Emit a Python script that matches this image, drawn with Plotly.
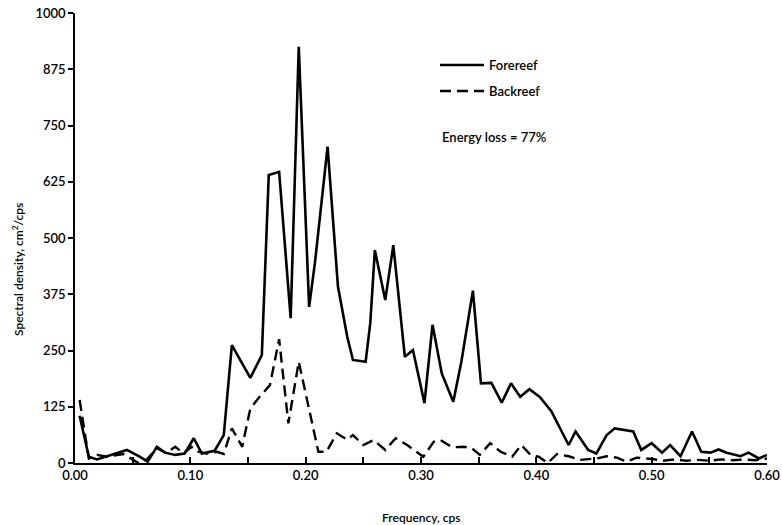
import plotly.graph_objects as go

fore_freq = [0.004, 0.012, 0.019, 0.027, 0.035, 0.045, 0.056, 0.063, 0.071, 0.078,
             0.087, 0.095, 0.103, 0.110, 0.121, 0.129, 0.136, 0.152, 0.162, 0.168,
             0.177, 0.187, 0.194, 0.203, 0.208, 0.219, 0.228, 0.236, 0.241, 0.252,
             0.256, 0.260, 0.269, 0.276, 0.286, 0.293, 0.303, 0.310, 0.318, 0.328,
             0.335, 0.345, 0.352, 0.361, 0.370, 0.378, 0.386, 0.394, 0.403, 0.413,
             0.421, 0.428, 0.434, 0.445, 0.452, 0.461, 0.468, 0.484, 0.491, 0.500,
             0.509, 0.516, 0.525, 0.535, 0.543, 0.551, 0.558, 0.565, 0.577, 0.584,
             0.593, 0.600]
fore_vals = [105, 14, 8, 14, 20, 29, 14, 3, 36, 23,
             18, 21, 55, 21, 27, 62, 262, 189, 240, 640,
             647, 322, 925, 347, 444, 703, 392, 281, 229, 225,
             310, 473, 362, 484, 236, 251, 133, 307, 199, 136,
             225, 383, 177, 178, 134, 177, 147, 164, 147, 115,
             75, 40, 70, 29, 21, 62, 77, 70, 29, 44,
             23, 40, 15, 70, 25, 23, 30, 23, 15, 23,
             10, 18]

back_freq = [0.004, 0.012, 0.019, 0.028, 0.042, 0.049, 0.055, 0.062, 0.071, 0.079,
             0.087, 0.094, 0.101, 0.107, 0.114, 0.123, 0.129, 0.136, 0.145, 0.152,
             0.160, 0.169, 0.177, 0.185, 0.194, 0.211, 0.218, 0.227, 0.236, 0.241,
             0.250, 0.259, 0.269, 0.278, 0.288, 0.302, 0.311, 0.317, 0.327, 0.337,
             0.344, 0.351, 0.360, 0.369, 0.379, 0.387, 0.395, 0.402, 0.410, 0.418,
             0.428, 0.438, 0.452, 0.461, 0.470, 0.478, 0.487, 0.500, 0.510, 0.520,
             0.530, 0.540, 0.550, 0.560, 0.570, 0.580, 0.590, 0.600]
back_vals = [140, 10, 18, 14, 20, 10, 0, 7, 33, 22,
             36, 21, 36, 25, 21, 25, 20, 77, 36, 121,
             147, 173, 275, 88, 225, 25, 25, 66, 52, 62,
             40, 51, 29, 55, 40, 14, 47, 51, 35, 36,
             33, 18, 44, 25, 14, 40, 18, 14, 0, 20,
             15, 7, 10, 15, 12, 3, 12, 9, 5, 8,
             5, 7, 5, 8, 6, 8, 6, 10]

x_ticks = [0.00, 0.05, 0.10, 0.15, 0.20, 0.25, 0.30, 0.35, 0.40, 0.45, 0.50, 0.55, 0.60]
x_labels = ["0.00", "", "0.10", "", "0.20", "", "0.30", "", "0.40", "", "0.50", "", "0.60"]
y_ticks = [0, 125, 250, 375, 500, 625, 750, 875, 1000]

FONT = "Lato"
L, R, T, B = 75, 15, 13, 62
W, H = 782, 525
PW, PH = W - L - R, H - T - B


def px_x(p):
    return (p - L) / PW


def px_y(p):
    return (H - B - p) / PH


fig = go.Figure()
fig.add_trace(go.Scatter(x=fore_freq, y=fore_vals, mode="lines", name="Forereef",
                         line=dict(color="black", width=2.6), legend="legend"))
fig.add_trace(go.Scatter(x=back_freq, y=back_vals, mode="lines", name="Backreef",
                         line=dict(color="black", width=2.4, dash="11px,6px"),
                         legend="legend2"))

tfont = dict(family=FONT, size=13, color="black", weight=600)
leg_common = dict(bgcolor="rgba(0,0,0,0)", font=tfont,
                  xanchor="left", yanchor="middle", itemwidth=44)
fig.update_layout(
    width=W, height=H,
    margin=dict(l=L, r=R, t=T, b=B, autoexpand=False),
    paper_bgcolor="white", plot_bgcolor="white",
    font=dict(family=FONT, size=13, color="black"),
    showlegend=True,
    legend=dict(x=px_x(435), y=px_y(65), **leg_common),
    legend2=dict(x=px_x(435), y=px_y(91), **leg_common),
    xaxis=dict(range=[0, 0.6], tickvals=x_ticks, ticktext=x_labels,
               ticks="inside", ticklen=6, tickcolor="black", tickwidth=1.5,
               showline=True, linecolor="black", linewidth=1.5,
               showgrid=False, zeroline=False, automargin=False,
               tickfont=tfont),
    yaxis=dict(range=[0, 1000], tickvals=y_ticks,
               ticks="outside", ticklen=5, tickcolor="black", tickwidth=1.5,
               showline=True, linecolor="black", linewidth=1.5,
               showgrid=False, zeroline=False, automargin=False,
               tickfont=tfont),
    annotations=[
        dict(text="Energy loss = 77%", xref="paper", yref="paper",
             x=px_x(440), y=px_y(137), xanchor="left", yanchor="middle",
             showarrow=False, font=tfont),
        dict(text="Frequency, cps", xref="paper", yref="paper",
             x=px_x(421), y=px_y(517), xanchor="center", yanchor="middle",
             showarrow=False, font=dict(family=FONT, size=12, color="black", weight=600)),
        dict(text="Spectral density, cm<sup>2</sup>/cps", xref="paper", yref="paper",
             x=px_x(18), y=px_y(270), xanchor="center", yanchor="middle",
             textangle=-90, showarrow=False,
             font=dict(family=FONT, size=12, color="black", weight=600)),
    ],
)

fig.write_html("out.html", config={"displayModeBar": False},
               post_script="document.body.style.margin='0';document.body.style.padding='0';")
